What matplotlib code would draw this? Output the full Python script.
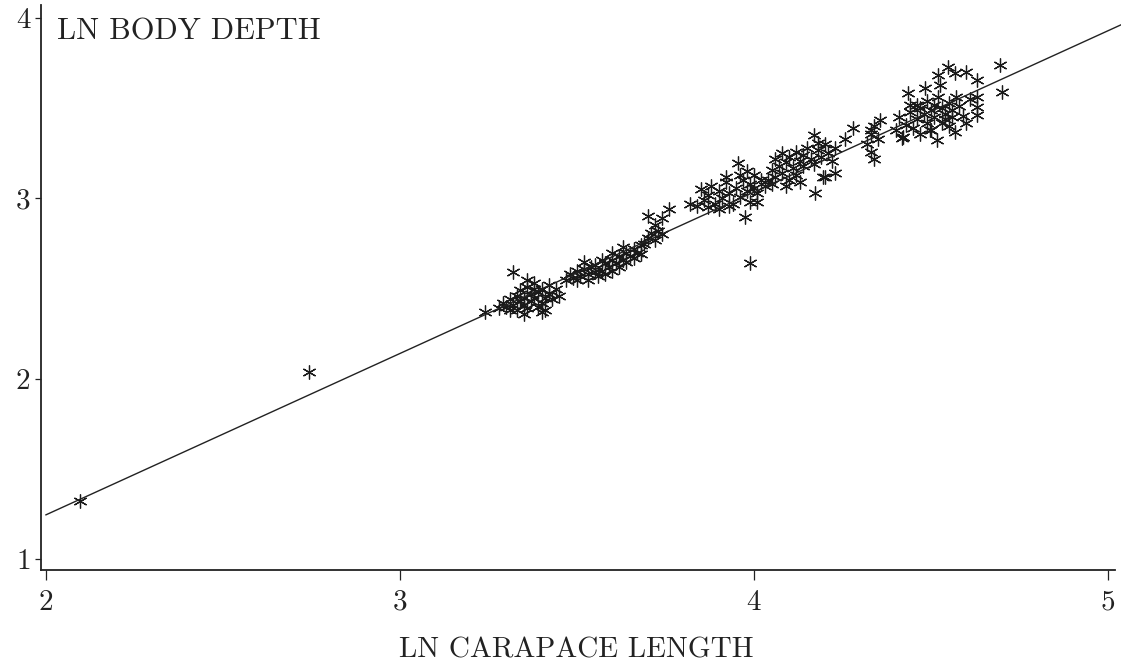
import matplotlib
matplotlib.use("Agg")
import matplotlib.pyplot as plt
import numpy as np

# ---- data ----
x_vals = [
    # isolated small fish
    2.096, 2.742,
    # group A
    3.24, 3.28, 3.29, 3.30, 3.31, 3.32, 3.32, 3.33, 3.33, 3.34, 3.34, 3.35, 3.35, 3.36, 3.36,
    3.37, 3.37, 3.38, 3.38, 3.39, 3.39, 3.40, 3.40, 3.41, 3.41, 3.42, 3.42, 3.43, 3.44, 3.45,
    3.31, 3.35, 3.40, 3.38, 3.36,
    # group B
    3.47, 3.48, 3.49, 3.50, 3.50, 3.51, 3.52, 3.53, 3.53, 3.54, 3.55, 3.55, 3.56, 3.57, 3.58,
    3.58, 3.59, 3.60, 3.60, 3.61, 3.62, 3.62, 3.63, 3.64, 3.64, 3.65, 3.66, 3.66, 3.67, 3.68,
    3.68, 3.57, 3.52, 3.60, 3.63,
    # group C
    3.70, 3.74, 3.76, 3.82, 3.72, 3.71, 3.70, 3.72, 3.73, 3.69, 3.74,
    # group D
    3.85, 3.86, 3.87, 3.88, 3.89, 3.90, 3.91, 3.92, 3.93, 3.94, 3.95, 3.955, 3.96, 3.97, 3.98,
    3.99, 3.99, 4.00, 4.01, 4.01, 4.02, 3.87, 3.90, 3.93, 3.96, 3.98, 3.92, 3.975, 3.99, 3.84,
    4.00, 4.03,
    # group E
    4.04, 4.05, 4.06, 4.06, 4.07, 4.08, 4.08, 4.09, 4.10, 4.10, 4.11, 4.12, 4.12, 4.13, 4.14,
    4.14, 4.15, 4.16, 4.17, 4.172, 4.17, 4.18, 4.19, 4.20, 4.20, 4.21, 4.229, 4.23, 4.257, 4.28,
    4.05, 4.09, 4.13, 4.18, 4.22, 4.195,
    # group F
    4.32, 4.33, 4.33, 4.34, 4.34, 4.35, 4.33, 4.356,
    # group G
    4.40, 4.41, 4.42, 4.43, 4.44, 4.435, 4.45, 4.46, 4.46, 4.47, 4.48, 4.483, 4.49, 4.49, 4.50,
    4.50, 4.51, 4.52, 4.517, 4.52, 4.525, 4.53, 4.53, 4.54, 4.548, 4.55, 4.55, 4.56, 4.568,
    4.568, 4.57, 4.58, 4.59, 4.60, 4.60, 4.61, 4.63, 4.63, 4.63, 4.63, 4.418, 4.497, 4.44,
    4.47, 4.51, 4.54, 4.56, 4.695, 4.70,
]
y_vals = [
    1.323, 2.035,
    # group A
    2.37, 2.39, 2.42, 2.40, 2.44, 2.59, 2.41, 2.46, 2.38, 2.43, 2.49, 2.41, 2.45, 2.51, 2.39,
    2.47, 2.43, 2.53, 2.45, 2.40, 2.48, 2.42, 2.50, 2.38, 2.45, 2.52, 2.47, 2.44, 2.50, 2.46,
    2.38, 2.36, 2.37, 2.50, 2.55,
    # group B
    2.55, 2.58, 2.56, 2.60, 2.55, 2.57, 2.61, 2.58, 2.55, 2.62, 2.59, 2.63, 2.57, 2.60, 2.64,
    2.58, 2.62, 2.66, 2.60, 2.64, 2.68, 2.62, 2.66, 2.70, 2.65, 2.68, 2.72, 2.67, 2.70, 2.74,
    2.69, 2.66, 2.65, 2.70, 2.73,
    # group C
    2.90, 2.89, 2.94, 2.97, 2.85, 2.81, 2.78, 2.77, 2.82, 2.75, 2.80,
    # group D
    3.05, 2.99, 3.02, 3.07, 2.97, 3.04, 3.00, 3.09, 3.03, 2.97, 3.06, 3.196, 3.01, 3.10, 3.04,
    2.98, 3.08, 3.13, 3.03, 2.98, 3.10, 2.95, 2.94, 2.96, 3.13, 3.15, 3.12, 2.895, 2.64, 2.96,
    3.06, 3.07,
    # group E
    3.10, 3.16, 3.12, 3.22, 3.18, 3.14, 3.25, 3.20, 3.10, 3.23, 3.17, 3.26, 3.13, 3.21, 3.24,
    3.18, 3.28, 3.22, 3.35, 3.03, 3.19, 3.27, 3.23, 3.12, 3.30, 3.25, 3.14, 3.28, 3.33, 3.39,
    3.08, 3.07, 3.09, 3.31, 3.21, 3.12,
    # group F
    3.30, 3.36, 3.26, 3.40, 3.22, 3.33, 3.38, 3.435,
    # group G
    3.38, 3.45, 3.34, 3.41, 3.48, 3.585, 3.39, 3.44, 3.52, 3.36, 3.47, 3.612, 3.42, 3.54, 3.38,
    3.49, 3.45, 3.684, 3.324, 3.56, 3.629, 3.50, 3.42, 3.47, 3.729, 3.53, 3.40, 3.49, 3.695,
    3.368, 3.56, 3.51, 3.46, 3.70, 3.418, 3.55, 3.657, 3.562, 3.507, 3.463, 3.335, 3.38, 3.52,
    3.50, 3.52, 3.44, 3.45, 3.74, 3.59,
]
fit_intercept = -0.545
fit_slope = 0.895
fit_x_range = [2.0, 5.08]

x_ticks = [2, 3, 4, 5]
y_ticks = [1, 2, 3, 4]
x_label = "LN CARAPACE LENGTH"
y_label = "LN BODY DEPTH"

# ---- figure ----
plt.rcParams['font.family'] = ['cmr10', 'DejaVu Serif']
plt.rcParams['axes.formatter.use_mathtext'] = True
plt.rcParams['mathtext.fontset'] = 'cm'

W, H = 1121, 665
fig = plt.figure(figsize=(W / 100, H / 100), dpi=100)
left_px, right_px, top_px, bot_px = 41, 1115, 5, 570
ax = fig.add_axes([left_px / W, 1 - bot_px / H, (right_px - left_px) / W, (bot_px - top_px) / H])

ax.set_xlim(1.986, 5.020)
ax.set_ylim(0.939, 4.073)

star = (6, 2, 0)
ax.plot(x_vals, y_vals, linestyle='none', marker=star, markersize=10,
        markeredgewidth=0.9, color='#1a1a1a')

fx = np.array(fit_x_range)
ax.plot(fx, fit_intercept + fit_slope * fx, color='#222222', lw=1.0, clip_on=False)

for s in ['top', 'right']:
    ax.spines[s].set_visible(False)
for s in ['left', 'bottom']:
    ax.spines[s].set_linewidth(1.3)
    ax.spines[s].set_color('#222222')

ax.set_xticks(x_ticks)
ax.set_yticks(y_ticks)
ax.set_xticklabels([str(t) for t in x_ticks])
ax.set_yticklabels([str(t) for t in y_ticks])
ax.tick_params(axis='x', direction='out', length=7, width=0.9, pad=7, labelsize=21, colors='#222222')
ax.tick_params(axis='y', direction='out', length=4.5, width=0.9, pad=3, labelsize=21, colors='#222222')

ax.text(57 / W, 1 - 40 / H, y_label, transform=fig.transFigure, fontsize=22,
        ha='left', va='baseline', color='#222222')
fig.text(576 / W, 1 - 657 / H, x_label, fontsize=21, ha='center', va='baseline', color='#222222')

fig.savefig("out.png", dpi=100, facecolor='white')
